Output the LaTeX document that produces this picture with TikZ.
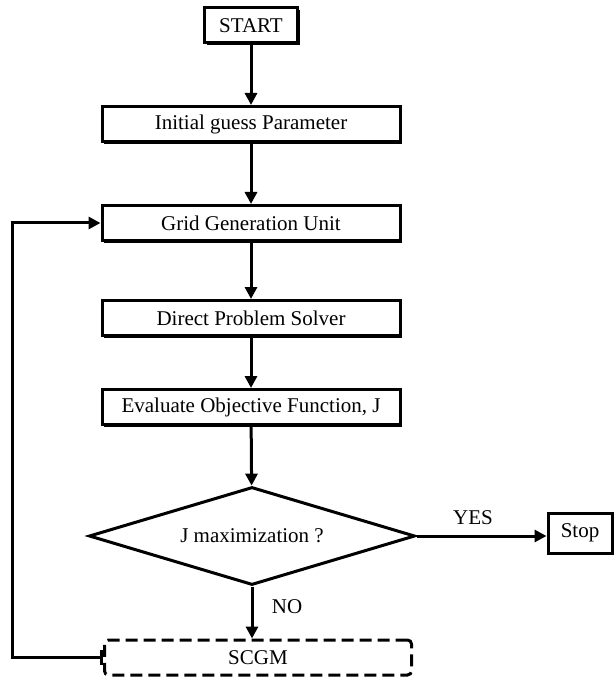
\documentclass[tikz,border=0pt]{standalone}
\usepackage{fontspec}
\setmainfont{Liberation Serif}
\usetikzlibrary{shapes.geometric, arrows.meta, shadows}

\begin{document}
\begin{tikzpicture}[x=0.5pt, y=-0.5pt,
        font=\fontsize{10.5}{12}\selectfont,
        stepbox/.style={draw, line width=1.5pt, fill=white, inner sep=0pt,
              minimum width=149pt, minimum height=17.5pt,
              drop shadow={shadow xshift=1.2pt, shadow yshift=-1.2pt, fill=black, opacity=1}},
        flow/.style={line width=1.5pt, -{Triangle[length=6pt, width=6pt]}}]
    \useasboundingbox (0,0) rectangle (614,678);
    \node[stepbox, minimum width=46.5pt] (start) at (251,25.5) {START};
    \node[stepbox] (guess) at (251,124) {Initial guess Parameter};
    \node[stepbox] (grid) at (251,223) {Grid Generation Unit};
    \node[stepbox] (solver) at (251,318) {Direct Problem Solver};
    \node[stepbox] (objective) at (251,407) {Evaluate Objective Function, J};
    \node[draw, diamond, line width=1.5pt, fill=white, inner sep=0pt,
          minimum width=163pt, minimum height=49pt,
          label=center:J maximization ?] (check) at (252,536) {};
    \node[stepbox, minimum width=32pt, minimum height=20pt] (stop) at (580,533) {Stop};
    \node[draw, line width=1.5pt, dash pattern=on 6pt off 3pt, rounded corners=2pt,
          minimum width=153.5pt, minimum height=17.5pt] (scgm) at (258,657.5) {SCGM};
    \node (yes) at (473,518) {YES};
    \node (no) at (287,607) {NO};
    \coordinate (bend) at (12,657.5);

    \draw[flow] (start) -- (guess);
    \draw[flow] (guess) -- (grid);
    \draw[flow] (grid) -- (solver);
    \draw[flow] (solver) -- (objective);
    \draw[flow] (objective) -- (check);
    \draw[flow] (check.east) -- (check.east -| stop.west);
    \draw[flow] (check.south) -- (check.south |- scgm.north);
    \draw[line width=1.5pt, {Bar[width=7.5pt]}-{Triangle[length=6pt, width=6pt]}]
        (scgm.west) -- (bend) |- (grid.west);
\end{tikzpicture}
\end{document}
